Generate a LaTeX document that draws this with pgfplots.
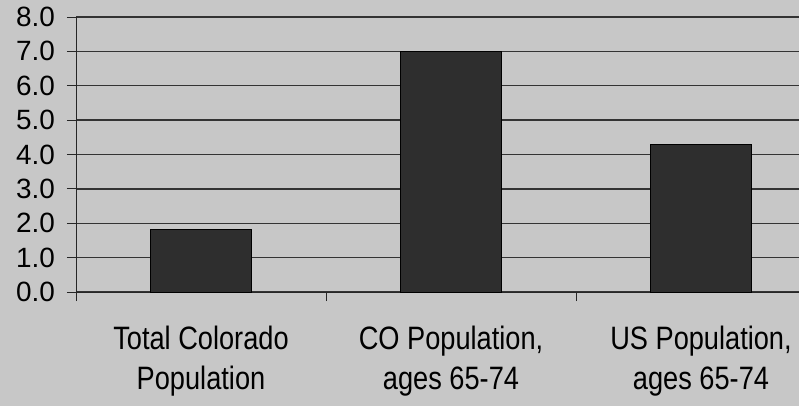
\documentclass[border=0pt]{standalone}
\usepackage{pgfplots}
\pgfplotsset{compat=1.18}
\usepackage{fontspec}
\setmainfont{Liberation Sans}
\newfontfamily\narrowfont{Liberation Sans}[FakeStretch=0.84]
\begin{document}
\begin{tikzpicture}[x=1bp,y=1bp]
\fill[black!22] (0,0) rectangle (799,406);
\path[use as bounding box] (0,0) rectangle (799,406);
\begin{axis}[
  at={(76bp,114bp)}, anchor=south west,
  scale only axis, width=723bp, height=275bp,
  xmin=-0.5, xmax=2.392, ymin=0, ymax=8,
  axis lines*=left,
  axis line style={black!85, line width=1pt},
  ytick={0,1,...,8},
  ymajorgrids,
  grid style={black!80, line width=1.4pt},
  tick align=outside,
  major tick length=9bp,
  tick style={black!85, line width=1pt},
  yticklabel style={font=\fontsize{28}{30}\selectfont, inner sep=0pt, xshift=-12bp},
  /pgf/number format/.cd, fixed, fixed zerofill, precision=1, assume math mode=true,
  /pgfplots/.cd,
  xtick={-0.5,0.5,1.5},
  xticklabels={},
  extra x ticks={0,1,2},
  extra x tick labels={{Total Colorado\\Population}, {CO Population,\\ages 65-74}, {US Population,\\ages 65-74}},
  extra x tick style={major tick length=0pt, grid=none,
    tick label style={font=\narrowfont\fontsize{32.5}{39.5}\selectfont, align=center, inner sep=0pt, yshift=-34bp}},
  clip=false,
]
\addplot[ybar, bar width=101bp, fill=black!82, draw=black, line width=1pt]
  coordinates {(0,1.83) (1,7.0) (2,4.3)};
\end{axis}
\end{tikzpicture}
\end{document}
